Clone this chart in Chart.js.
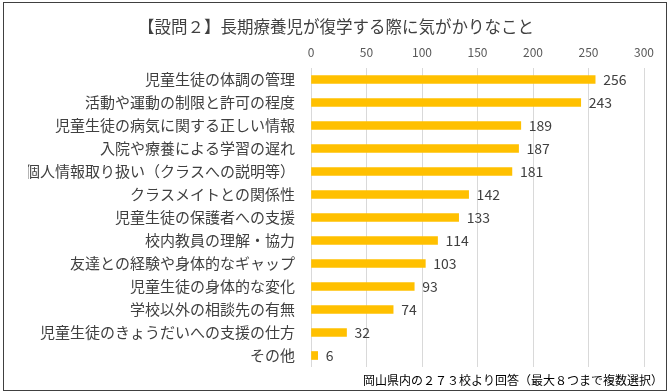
<!DOCTYPE html>
<html>
<head>
<meta charset="utf-8">
<script src="https://cdn.jsdelivr.net/npm/chart.js@4/dist/chart.umd.min.js"></script>
<style>
  html, body { margin: 0; padding: 0; background: #fff; }
  #wrap { position: relative; width: 669px; height: 392px; }
  #frame { position: absolute; left: 3px; top: 2px; width: 662px; height: 387px; border: 1px solid #404040; pointer-events: none; }
</style>
</head>
<body>
<div id="wrap">
  <canvas id="myChart" width="669" height="392"></canvas>
  <div id="frame"></div>
</div>
<script>
var categories = [
  '児童生徒の体調の管理',
  '活動や運動の制限と許可の程度',
  '児童生徒の病気に関する正しい情報',
  '入院や療養による学習の遅れ',
  '個人情報取り扱い（クラスへの説明等）',
  'クラスメイトとの関係性',
  '児童生徒の保護者への支援',
  '校内教員の理解・協力',
  '友達との経験や身体的なギャップ',
  '児童生徒の身体的な変化',
  '学校以外の相談先の有無',
  '児童生徒のきょうだいへの支援の仕方',
  'その他'
];
var counts = [256, 243, 189, 187, 181, 142, 133, 114, 103, 93, 74, 32, 6];
var axisMin = 0;
var axisMax = 300;
var axisStep = 50;

var titleText = '【設問２】長期療養児が復学する際に気がかりなこと';
var noteText = '岡山県内の２７３校より回答（最大８つまで複数選択）';

var jpFont = '"Noto Sans CJK JP", "Noto Sans", sans-serif';

// value labels at the end of each bar
var barLabels = {
  id: 'barLabels',
  afterDatasetsDraw: function (chart) {
    var ctx = chart.ctx;
    var meta = chart.getDatasetMeta(0);
    ctx.save();
    ctx.font = '14px ' + jpFont;
    ctx.fillStyle = '#404040';
    ctx.textAlign = 'left';
    ctx.textBaseline = 'middle';
    meta.data.forEach(function (bar, i) {
      ctx.fillText(counts[i], bar.x + 8, bar.y);
    });
    ctx.restore();
  }
};

// note in the lower right corner
var noteLabel = {
  id: 'noteLabel',
  afterDraw: function (chart) {
    var ctx = chart.ctx;
    ctx.save();
    ctx.font = '12px ' + jpFont;
    ctx.fillStyle = '#000000';
    ctx.textAlign = 'right';
    ctx.textBaseline = 'middle';
    ctx.fillText(noteText, 663, 380);
    ctx.restore();
  }
};

var ctx = document.getElementById('myChart');
var myChart = new Chart(ctx, {
  type: 'bar',
  data: {
    labels: categories,
    datasets: [{
      data: counts,
      backgroundColor: '#FFC000',
      borderWidth: 0,
      barThickness: 8
    }]
  },
  options: {
    indexAxis: 'y',
    responsive: false,
    animation: false,
    layout: {
      padding: { left: 28, right: 25, top: 0, bottom: 19 }
    },
    plugins: {
      legend: { display: false },
      tooltip: { enabled: false },
      title: {
        display: true,
        text: titleText,
        color: '#404040',
        font: { family: jpFont, size: 16.5, weight: 'normal', lineHeight: 1.2 },
        padding: { top: 17, bottom: 0 }
      }
    },
    scales: {
      x: {
        position: 'top',
        min: axisMin,
        max: axisMax,
        afterFit: function (scale) { scale.height = 31.2; },
        ticks: {
          stepSize: axisStep,
          color: '#595959',
          padding: 8,
          font: { family: jpFont, size: 12 }
        },
        grid: { color: '#d9d9d9', drawTicks: false },
        border: { display: false }
      },
      y: {
        afterFit: function (scale) { scale.width = 283; },
        ticks: {
          color: '#404040',
          padding: 16,
          font: { family: jpFont, size: 15 }
        },
        grid: { display: false, drawTicks: false },
        border: { display: false }
      }
    }
  },
  plugins: [barLabels, noteLabel]
});
</script>
</body>
</html>
